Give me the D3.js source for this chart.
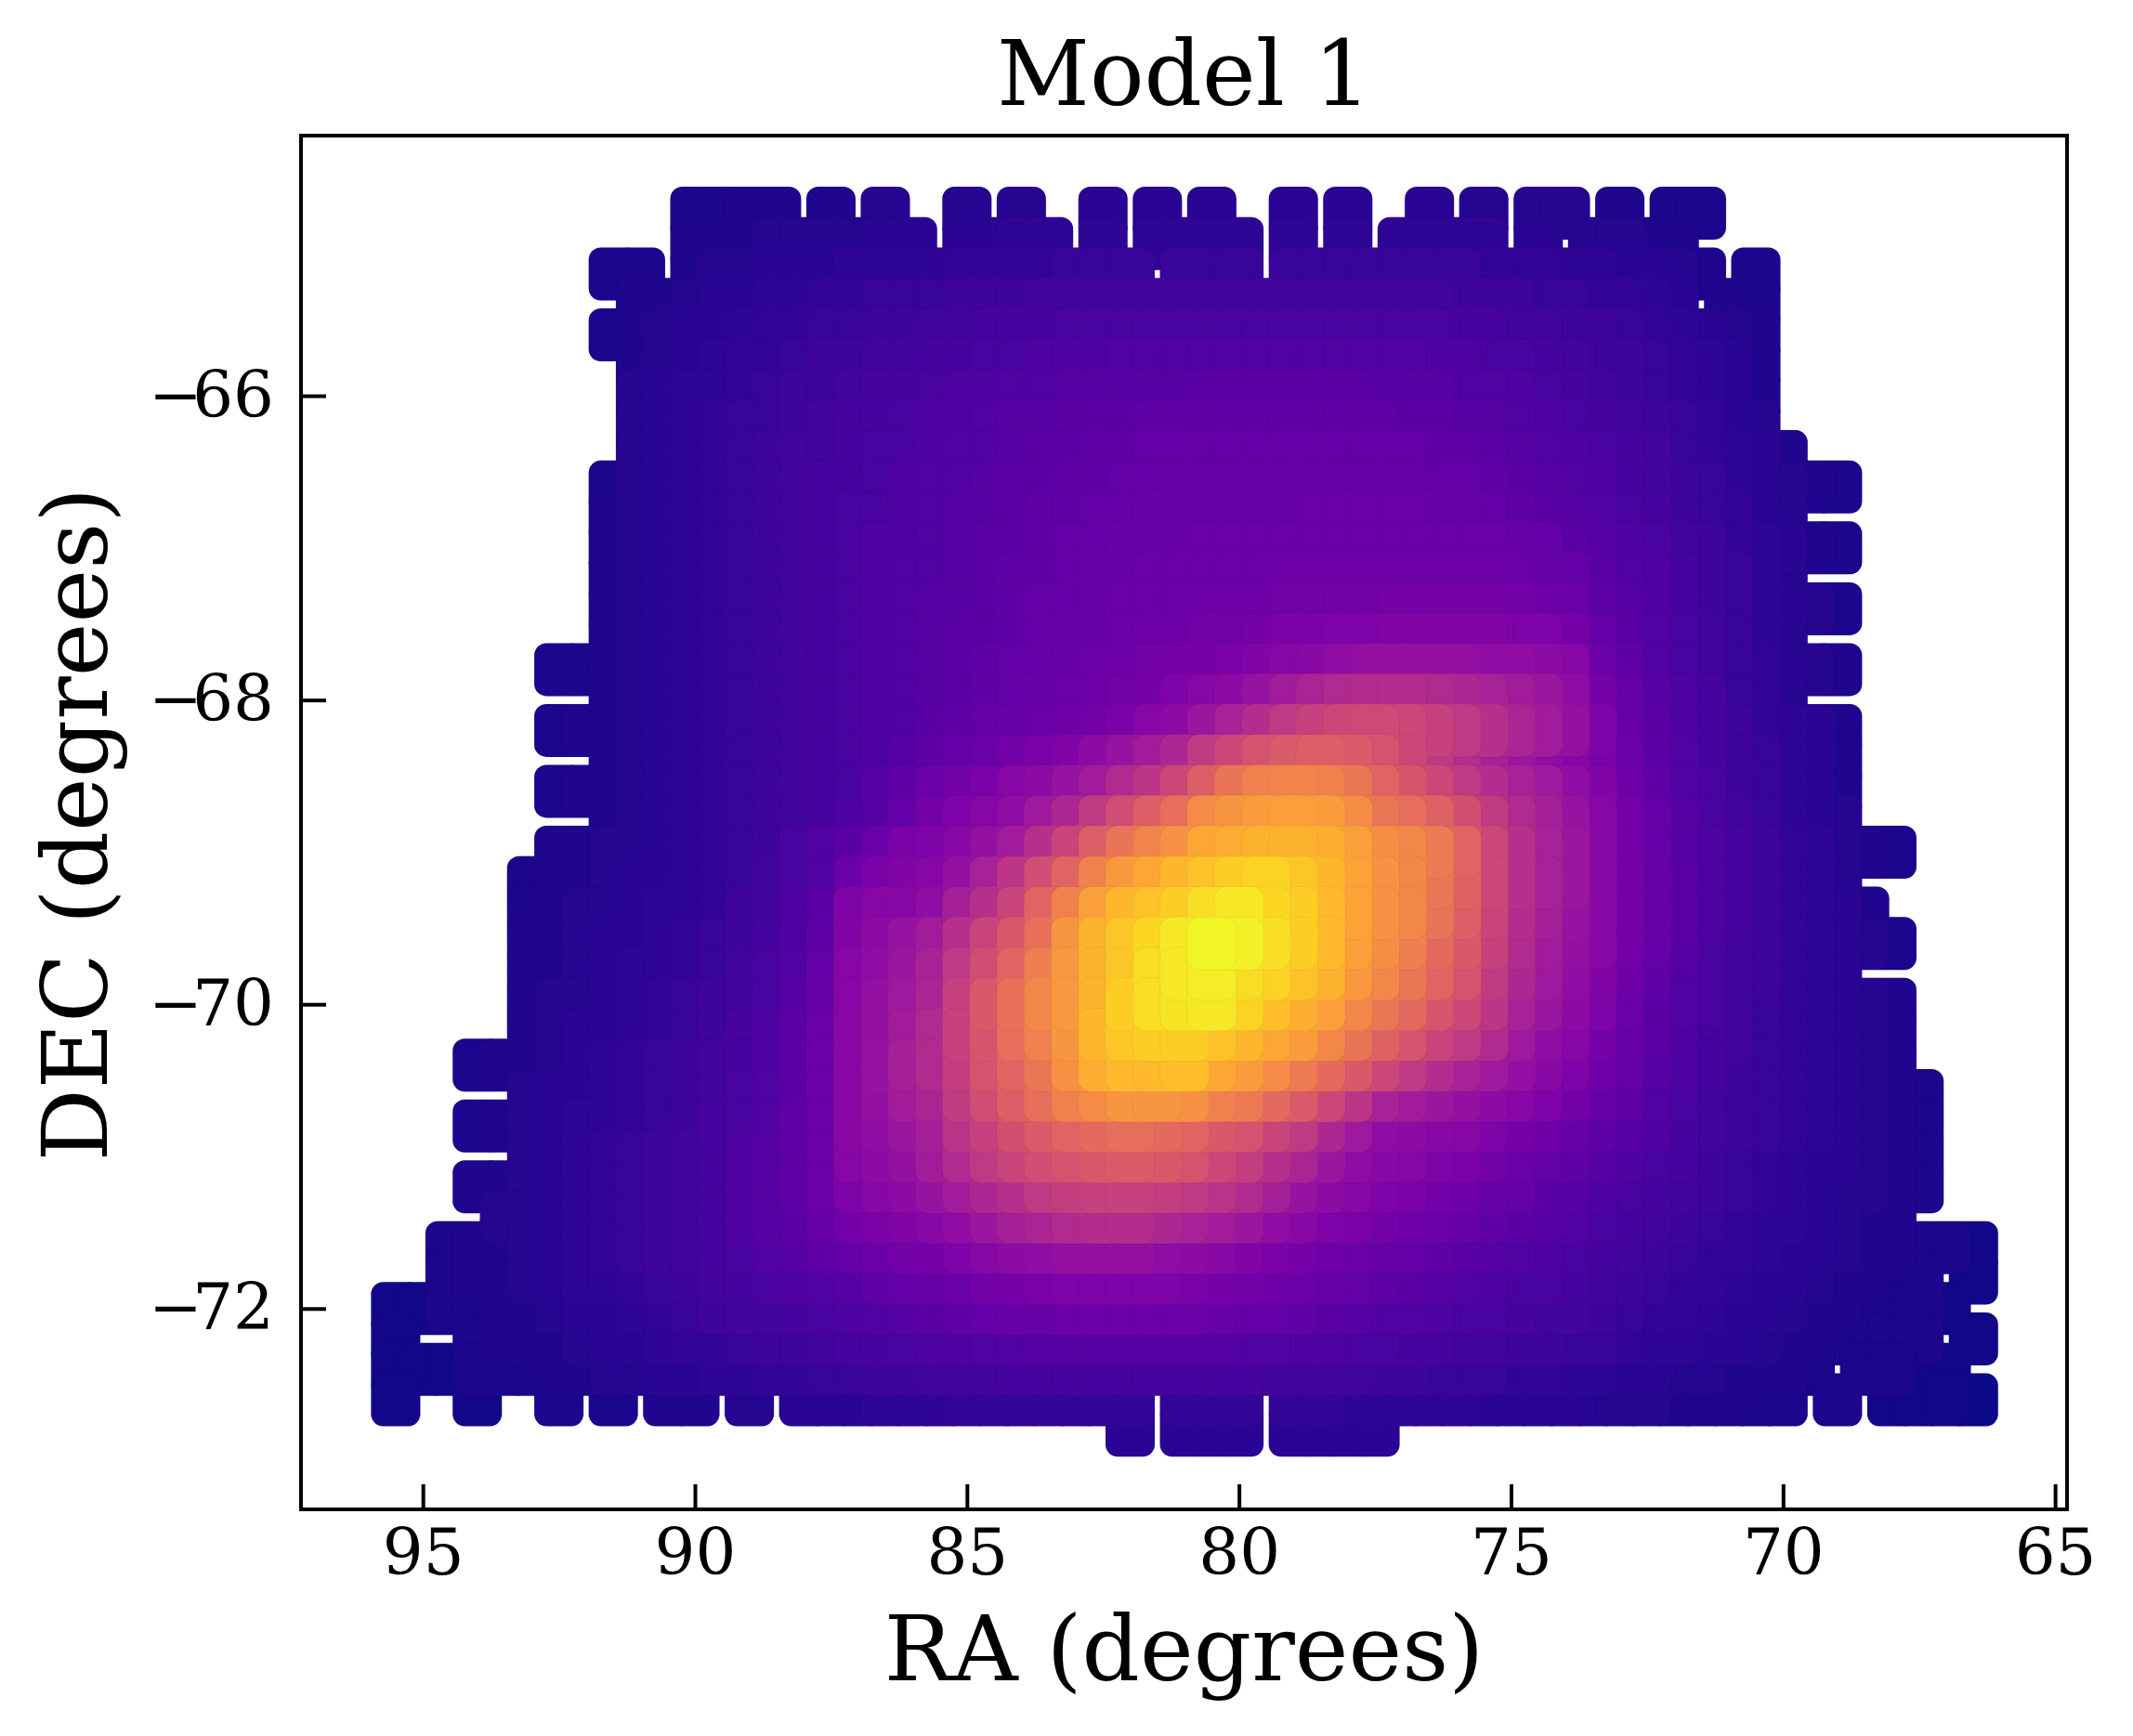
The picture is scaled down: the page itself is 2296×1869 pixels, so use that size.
<!DOCTYPE html>
<html>
<head>
<meta charset="utf-8">
<script src="https://cdn.jsdelivr.net/npm/d3@7"></script>
<style>
  body { margin: 0; background: #fff; }
  text { font-family: "DejaVu Serif", serif; fill: #000; }
</style>
</head>
<body>
<div id="chart"></div>
<script>
const raColumns = [
  95.5, 95, 94.5, 94, 93.5, 93, 92.5, 92, 91.5, 91,
  90.5, 90, 89.5, 89, 88.5, 88, 87.5, 87, 86.5, 86,
  85.5, 85, 84.5, 84, 83.5, 83, 82.5, 82, 81.5, 81,
  80.5, 80, 79.5, 79, 78.5, 78, 77.5, 77, 76.5, 76,
  75.5, 75, 74.5, 74, 73.5, 73, 72.5, 72, 71.5, 71,
  70.5, 70, 69.5, 69, 68.5, 68, 67.5, 67, 66.5
];
const decRows = [
  -64.8, -65, -65.2, -65.4, -65.6, -65.8, -66, -66.2, -66.4, -66.6,
  -66.8, -67, -67.2, -67.4, -67.6, -67.8, -68, -68.2, -68.4, -68.6,
  -68.8, -69, -69.2, -69.4, -69.6, -69.8, -70, -70.2, -70.4, -70.6,
  -70.8, -71, -71.2, -71.4, -71.6, -71.8, -72, -72.2, -72.4, -72.6, -72.8
];
const raTicks = [95, 90, 85, 80, 75, 70, 65];
const decTicks = [-66, -68, -70, -72];

// one line per DEC row, ten RA columns per block, ".." = no pointing there
const intensity = [
  ".. .. .. .. .. .. .. .. .. .. | .. 02 02 03 03 .. 03 .. 04 .. | .. 04 .. 04 .. .. 05 .. 05 .. | 05 .. .. 05 .. 05 .. .. 05 .. | 04 .. 04 04 .. 03 .. 02 02 .. | .. .. .. .. .. .. .. .. ..",
  ".. .. .. .. .. .. .. .. .. .. | .. 03 03 03 04 04 04 04 05 05 | .. 05 05 06 06 .. 06 .. 06 06 | 06 06 .. 06 .. 06 .. 06 06 06 | 06 .. 05 .. 04 04 03 03 .. .. | .. .. .. .. .. .. .. .. ..",
  ".. .. .. .. .. .. .. .. 02 02 | .. 03 04 04 05 05 05 06 06 06 | 06 07 07 07 07 08 08 08 .. 08 | 08 08 .. 08 08 08 08 08 08 08 | 07 07 07 06 06 05 05 04 03 .. | 02 .. .. .. .. .. .. .. ..",
  ".. .. .. .. .. .. .. .. .. 03 | 03 04 05 05 06 06 07 07 08 08 | 08 09 09 09 10 10 10 10 10 10 | 10 10 10 10 10 10 10 10 10 09 | 09 09 08 08 07 07 06 05 .. 03 | 02 .. .. .. .. .. .. .. ..",
  ".. .. .. .. .. .. .. .. 02 03 | 04 05 05 06 07 07 08 08 09 09 | 10 10 11 11 11 12 12 12 12 12 | 12 12 12 12 12 12 12 12 12 11 | 11 10 10 09 09 08 07 06 05 04 | 03 .. .. .. .. .. .. .. ..",
  ".. .. .. .. .. .. .. .. .. 03 | 04 05 06 07 07 08 09 09 10 10 | 11 11 12 12 13 13 13 14 14 14 | 14 14 14 14 14 14 14 14 13 13 | 12 12 11 10 09 09 08 07 06 05 | 03 .. .. .. .. .. .. .. ..",
  ".. .. .. .. .. .. .. .. .. 04 | 05 06 06 07 08 09 09 10 11 11 | 12 13 13 14 14 15 15 15 15 15 | 16 16 16 16 16 16 15 15 15 14 | 14 13 12 11 10 09 08 07 06 05 | 03 .. .. .. .. .. .. .. ..",
  ".. .. .. .. .. .. .. .. .. 04 | 05 06 07 08 08 09 10 11 11 12 | 13 13 14 15 15 16 16 16 17 17 | 17 17 17 17 17 17 17 16 16 15 | 15 14 13 12 11 10 09 08 07 05 | 04 .. .. .. .. .. .. .. ..",
  ".. .. .. .. .. .. .. .. .. 04 | 05 06 07 08 09 10 10 11 12 12 | 13 14 14 15 16 16 17 17 18 18 | 18 18 18 18 18 18 18 18 17 17 | 16 15 14 13 12 11 10 08 07 06 | 05 03 .. .. .. .. .. .. ..",
  ".. .. .. .. .. .. .. .. 02 04 | 05 06 07 08 09 10 11 11 12 13 | 14 14 15 16 16 17 17 18 18 19 | 19 19 19 19 19 19 19 19 18 18 | 17 16 15 14 13 11 10 09 08 06 | 05 04 03 02 .. .. .. .. ..",
  ".. .. .. .. .. .. .. .. 03 04 | 05 06 07 08 09 10 11 12 12 13 | 14 15 15 16 17 17 18 18 19 19 | 19 19 19 19 20 20 20 20 19 19 | 18 17 16 15 14 12 11 09 08 07 | 05 04 .. .. .. .. .. .. ..",
  ".. .. .. .. .. .. .. .. 03 04 | 05 06 07 08 09 10 11 12 13 13 | 14 15 16 16 17 18 18 19 19 19 | 20 20 20 20 20 20 20 20 20 20 | 20 19 18 16 15 13 12 10 09 07 | 06 05 03 02 .. .. .. .. ..",
  ".. .. .. .. .. .. .. .. 03 04 | 05 06 07 08 09 10 11 12 13 14 | 14 15 16 17 17 18 19 19 20 20 | 20 20 20 21 21 21 21 21 21 21 | 21 20 19 18 16 14 13 11 09 08 | 06 04 .. .. .. .. .. .. ..",
  ".. .. .. .. .. .. .. .. 03 04 | 05 06 07 08 09 10 11 12 13 14 | 15 15 16 17 18 18 19 20 20 20 | 21 21 21 22 22 22 22 23 23 23 | 23 22 21 20 17 15 13 11 09 08 | 06 05 04 02 .. .. .. .. ..",
  ".. .. .. .. .. .. .. .. 03 04 | 05 06 07 08 09 10 11 12 13 14 | 15 16 16 17 18 19 19 20 21 21 | 22 22 23 24 24 25 25 26 26 26 | 26 25 25 23 18 16 14 12 10 08 | 06 04 .. .. .. .. .. .. ..",
  ".. .. .. .. .. .. 02 02 03 04 | 05 06 07 08 09 10 11 12 13 14 | 15 16 17 18 18 19 20 21 22 23 | 23 24 26 27 28 30 31 31 31 31 | 30 30 29 27 20 17 14 12 10 08 | 07 05 04 03 .. .. .. .. ..",
  ".. .. .. .. .. .. .. .. 03 04 | 05 06 07 08 09 10 11 12 13 14 | 15 16 17 18 19 20 21 22 23 25 | 27 29 32 35 38 40 41 41 40 39 | 37 35 33 30 23 18 15 13 11 08 | 07 04 .. .. .. .. .. .. ..",
  ".. .. .. .. .. .. 02 03 03 04 | 05 06 07 08 09 10 11 12 13 14 | 16 17 18 19 20 21 22 24 27 29 | 33 37 41 45 48 50 51 50 48 45 | 42 38 35 31 25 19 16 13 11 09 | 07 06 05 03 .. .. .. .. ..",
  ".. .. .. .. .. .. .. .. 03 04 | 05 06 07 08 09 10 11 12 13 15 | 17 18 20 22 24 26 29 32 35 39 | 46 50 54 57 58 57 54 50 45 41 | 37 33 30 27 24 20 16 14 11 09 | 08 06 05 03 .. .. .. .. ..",
  ".. .. .. .. .. .. 02 03 03 04 | 05 06 07 08 09 10 11 12 15 17 | 20 22 24 27 29 32 35 40 44 50 | 58 65 69 70 69 66 60 55 50 45 | 41 37 34 30 26 21 17 14 12 09 | 08 06 05 03 .. .. .. .. ..",
  ".. .. .. .. .. .. .. .. 03 04 | 05 06 07 08 09 10 11 13 15 18 | 22 25 27 30 34 39 46 52 58 63 | 72 75 77 78 77 73 66 63 59 53 | 46 40 36 32 27 22 18 15 12 10 | 08 06 05 04 .. .. .. .. ..",
  ".. .. .. .. .. .. 03 03 04 04 | 05 06 07 08 09 12 14 16 20 24 | 25 28 31 35 42 49 58 65 70 74 | 80 81 83 83 82 78 73 71 67 60 | 50 42 37 33 28 22 18 15 13 11 | 09 07 06 04 03 02 .. .. ..",
  ".. .. .. .. .. 02 03 03 04 05 | 05 06 07 08 10 12 14 20 24 26 | 27 31 37 44 52 60 69 76 80 84 | 87 90 91 88 84 79 74 71 66 59 | 50 42 37 33 28 23 19 16 13 11 | 09 07 06 04 .. .. .. .. ..",
  ".. .. .. .. .. 02 03 04 04 05 | 06 06 07 09 10 13 16 25 27 28 | 30 36 42 49 60 69 78 84 87 90 | 94 96 92 90 85 79 74 71 65 58 | 49 41 36 32 28 23 19 16 13 11 | 09 07 06 05 03 .. .. .. ..",
  ".. .. .. .. .. 03 03 04 05 05 | 06 07 08 09 11 13 17 26 29 32 | 35 42 49 56 64 75 83 88 92 96 | 99 98 94 90 85 78 73 68 62 56 | 48 40 35 31 27 22 18 15 12 10 | 09 07 06 05 04 02 .. .. ..",
  ".. .. .. .. .. 03 03 04 05 06 | 06 07 08 10 12 14 18 27 30 33 | 37 45 52 60 68 76 83 88 93 96 | 97 93 91 87 83 76 71 66 60 54 | 46 39 34 30 26 21 17 14 12 10 | 09 07 06 05 .. .. .. .. ..",
  ".. .. .. .. .. 03 04 04 05 06 | 07 08 09 10 12 15 19 27 31 34 | 38 48 56 64 71 76 83 90 93 95 | 96 91 86 82 78 71 66 61 55 50 | 44 37 33 29 25 20 16 14 12 10 | 08 07 06 05 04 03 .. .. ..",
  ".. .. .. .. .. 03 04 05 05 06 | 07 08 09 11 13 16 20 28 31 35 | 40 48 55 63 69 75 84 88 90 90 | 87 84 80 77 71 65 59 54 49 45 | 40 34 30 27 23 19 16 13 11 10 | 08 07 06 05 04 03 .. .. ..",
  ".. .. .. 02 03 03 04 05 06 07 | 08 09 10 11 13 16 20 28 32 36 | 40 47 54 60 66 74 82 85 85 86 | 80 77 72 67 62 56 50 45 41 37 | 34 31 28 25 21 18 15 13 11 09 | 08 07 06 05 04 03 .. .. ..",
  ".. .. .. .. .. 04 05 05 06 07 | 08 09 10 12 14 16 20 28 31 35 | 38 46 52 58 63 69 72 75 75 74 | 69 67 61 57 50 44 37 35 33 31 | 29 27 25 22 19 17 14 12 10 09 | 08 07 06 05 04 03 02 .. ..",
  ".. .. .. 02 03 04 05 06 06 07 | 08 09 11 12 14 17 20 28 30 33 | 36 43 48 53 57 60 62 63 62 60 | 56 54 49 45 39 34 30 29 28 27 | 25 23 21 19 17 15 13 11 10 09 | 08 07 06 05 04 03 02 .. ..",
  ".. .. .. .. .. 04 05 06 07 08 | 09 10 11 13 15 17 20 27 29 31 | 35 40 45 49 52 54 56 57 56 54 | 50 47 42 38 33 30 28 27 25 24 | 22 20 18 17 15 13 12 11 09 08 | 07 06 05 05 04 03 02 .. ..",
  ".. .. .. 03 03 04 05 06 07 08 | 09 10 11 13 15 17 20 25 27 29 | 32 35 39 42 45 47 48 48 47 45 | 43 40 36 32 29 27 25 24 22 21 | 19 18 16 15 13 12 11 10 09 08 | 07 06 05 04 04 03 02 .. ..",
  ".. .. .. .. 04 04 05 06 07 08 | 09 10 11 13 15 16 19 22 24 26 | 28 30 33 36 38 40 41 41 39 37 | 35 33 30 28 25 24 22 21 20 19 | 17 16 15 14 12 11 10 09 08 07 | 06 06 05 04 03 03 .. .. ..",
  ".. .. 02 03 03 04 05 06 07 08 | 09 10 11 12 14 15 17 18 20 22 | 23 25 27 29 30 31 31 31 30 29 | 28 26 24 23 21 20 19 18 17 16 | 15 14 13 12 11 10 09 08 07 07 | 06 05 05 04 03 03 02 02 01",
  ".. .. 02 03 03 04 05 06 06 07 | 08 09 10 11 12 13 14 15 17 18 | 19 20 22 23 24 25 25 25 25 24 | 23 22 21 20 19 18 17 16 15 14 | 13 12 12 11 10 09 08 07 07 06 | 05 05 04 03 03 02 02 .. 01",
  "01 01 02 02 03 03 04 05 05 06 | 07 08 09 10 10 11 12 13 14 15 | 16 17 18 19 19 20 20 20 20 20 | 19 18 18 17 16 15 14 14 13 12 | 12 11 10 10 09 08 07 07 06 05 | 05 04 03 03 02 02 02 01 ..",
  "01 .. .. 02 03 03 03 04 05 05 | 06 07 07 08 09 09 10 11 11 12 | 13 13 14 14 15 15 15 15 15 15 | 15 14 14 13 13 12 12 11 11 10 | 10 09 09 08 08 07 06 06 05 05 | 04 03 03 02 02 02 02 .. 01",
  "01 01 01 02 02 02 03 03 04 04 | 05 05 06 06 07 07 08 08 09 09 | 10 10 10 11 11 11 11 11 11 11 | 11 11 10 10 10 10 09 09 08 08 | 08 07 07 06 06 05 05 04 04 03 | 03 03 02 .. 02 02 01 01 ..",
  "01 .. .. 01 .. .. 02 .. 02 .. | 03 03 .. 04 .. 05 05 05 06 06 | 06 07 07 07 07 07 07 07 .. 07 | 07 07 .. 07 07 06 06 06 06 06 | 05 05 05 05 04 04 04 03 03 03 | 02 02 .. 02 .. 01 01 01 00",
  ".. .. .. .. .. .. .. .. .. .. | .. .. .. .. .. .. .. .. .. .. | .. .. .. .. .. .. .. 05 .. 05 | 05 05 .. 05 05 05 05 .. .. .. | .. .. .. .. .. .. .. .. .. .. | .. .. .. .. .. .. .. .. .."
];

const width = 2296;
const height = 1869;
const margin = { top: 146, right: 71, bottom: 244, left: 324 };

const svg = d3
  .select("#chart")
  .append("svg")
  .attr("width", width)
  .attr("height", height)
  .style("display", "block");

const x = d3.scaleLinear().domain([97.24, 64.78]).range([margin.left, width - margin.right]);
const y = d3.scaleLinear().domain([-64.29, -73.32]).range([margin.top, height - margin.bottom]);
const color = d3.scaleSequential(d3.interpolatePlasma).domain([0, 100]);

// flatten the table into points, brightest drawn last like the original scatter
const points = [];
intensity.forEach((row, r) => {
  row.split(/[\s|]+/).forEach((v, c) => {
    if (v !== "..") points.push({ ra: raColumns[c], dec: decRows[r], value: +v });
  });
});
points.sort((a, b) => a.value - b.value);

const markerW = 53;
const markerH = 57;

svg
  .append("g")
  .selectAll("rect")
  .data(points)
  .enter()
  .append("rect")
  .attr("x", (d) => x(d.ra) - markerW / 2)
  .attr("y", (d) => y(d.dec) - markerH / 2)
  .attr("width", markerW)
  .attr("height", markerH)
  .attr("rx", 13)
  .attr("ry", 13)
  .attr("fill", (d) => color(d.value))
  .attr("stroke", "rgba(0,0,0,0.05)")
  .attr("stroke-width", 1);

const xAxis = d3
  .axisBottom(x)
  .tickValues(raTicks)
  .tickFormat(d3.format("d"))
  .tickSizeInner(-27)
  .tickSizeOuter(0)
  .tickPadding(21);
const yAxis = d3
  .axisLeft(y)
  .tickValues(decTicks)
  .tickFormat(d3.format("d"))
  .tickSizeInner(-27)
  .tickSizeOuter(0)
  .tickPadding(29);

const gx = svg.append("g").attr("transform", `translate(0,${height - margin.bottom})`).call(xAxis);
const gy = svg.append("g").attr("transform", `translate(${margin.left},0)`).call(yAxis);
[gx, gy].forEach((g) => {
  g.select(".domain").remove();
  g.selectAll("line").attr("stroke", "#000").attr("stroke-width", 4);
  g.selectAll("text").style("font-size", "69px").style("font-family", '"DejaVu Serif", serif');
});

// the original minus sits closer to the digits
gy.selectAll("text").attr("dx", "0 -11 0");

svg
  .append("rect")
  .attr("x", margin.left)
  .attr("y", margin.top)
  .attr("width", width - margin.left - margin.right)
  .attr("height", height - margin.top - margin.bottom)
  .attr("fill", "none")
  .attr("stroke", "#000")
  .attr("stroke-width", 4);

svg
  .append("text")
  .attr("x", (margin.left + width - margin.right) / 2)
  .attr("y", 113)
  .attr("text-anchor", "middle")
  .style("font-size", "97.5px")
  .text("Model 1");

svg
  .append("text")
  .attr("x", (margin.left + width - margin.right) / 2)
  .attr("y", 1809)
  .attr("text-anchor", "middle")
  .style("font-size", "97.5px")
  .text("RA (degrees)");

svg
  .append("text")
  .attr("transform", `translate(115,${(margin.top + height - margin.bottom) / 2 + 2}) rotate(-90)`)
  .attr("text-anchor", "middle")
  .style("font-size", "97.5px")
  .text("DEC (degrees)");
</script>
</body>
</html>
